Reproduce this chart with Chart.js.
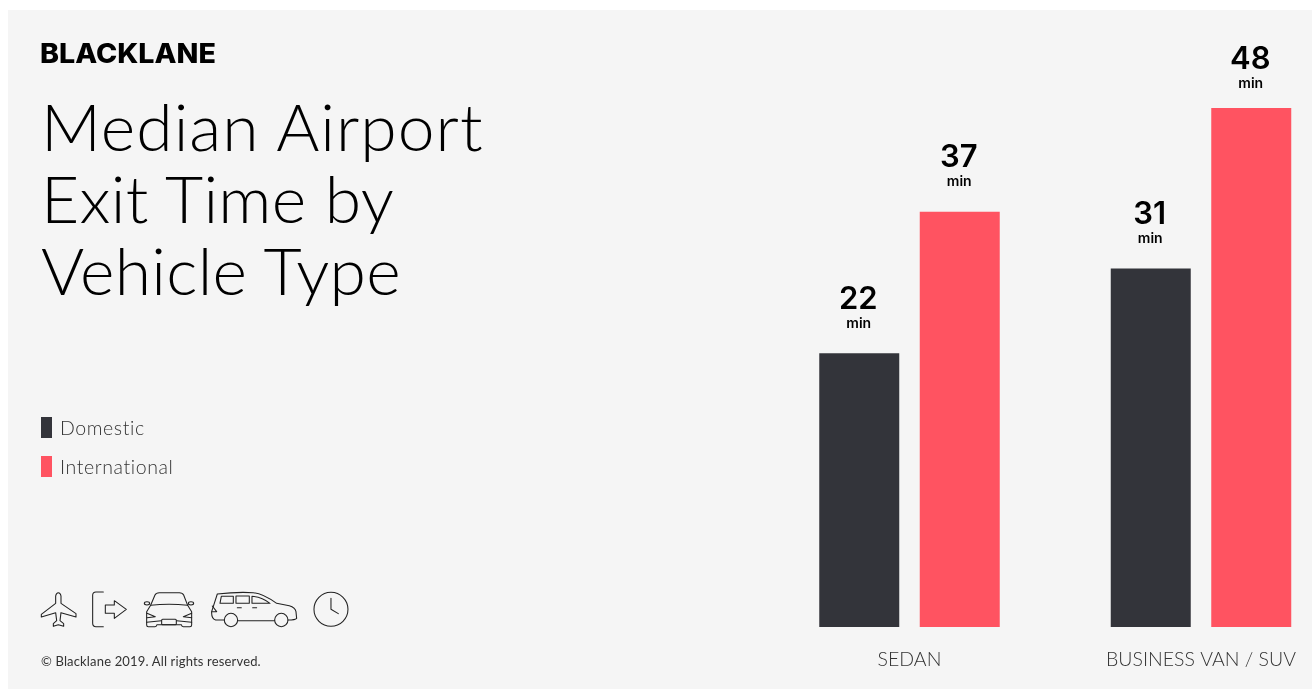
<!DOCTYPE html>
<html>
<head>
<meta charset="utf-8">
<title>Median Airport Exit Time by Vehicle Type</title>
<style>
    html, body { margin: 0; padding: 0; width: 1312px; height: 689px; overflow: hidden; background: #fff; font-family: "Lato", sans-serif; font-variant-ligatures: none; }
    #panel { position: absolute; left: 8px; top: 10px; width: 1304px; height: 679px; background: #f5f5f5; }
    #chartBox { position: absolute; left: 0; top: 0; width: 1312px; height: 689px; }
    .logo { position: absolute; left: 40px; top: 38px; font: 800 27px "Inter", sans-serif; color: #000; line-height: 32px; transform: scaleX(1.06); transform-origin: left center; }
    .title { position: absolute; left: 41px; top: 90px; font-weight: 300; font-size: 66px; line-height: 72px; color: #000; }
    .title span { display: block; white-space: nowrap; }
    .legendRow { position: absolute; left: 41px; height: 21px; line-height: 21px; font-weight: 300; font-size: 19.5px; letter-spacing: 0.6px; color: #333; }
    .legendRow i { display: inline-block; width: 11px; height: 21px; margin-right: 8px; vertical-align: top; }
    .copy { position: absolute; left: 41px; top: 654px; font-size: 13px; letter-spacing: 0.16px; line-height: 15px; color: #333; }
    #icons { position: absolute; left: 0; top: 0; }
</style>
</head>
<body>
<div id="panel"></div>
<div id="chartBox"><canvas id="exitTimeChart" width="1312" height="689"></canvas></div>
<div class="logo">BLACKLANE</div>
<div class="title">
    <span style="letter-spacing:1px">Median Airport</span>
    <span style="letter-spacing:0.3px">Exit Time by</span>
    <span style="letter-spacing:0.3px">Vehicle Type</span>
</div>
<div id="legend"></div>

<svg id="icons" width="1312" height="689" fill="none" stroke="#222" stroke-linejoin="round" stroke-linecap="round">
    <g transform="translate(20 570) scale(0.3333)" stroke-width="3.2">
        <!-- plane -->
        <path d="M107,100 V78 Q109,68 115,68 Q121,68 123,78 V100 L168,131 V141 L123,128 L120,152 L131,161 V169 L115,164 L100,169 V161 L110,152 L107,128 L64,141 V133 Z"/>
        <!-- exit door and arrow -->
        <path d="M250,66 H228 Q218,66 218,76 V160 Q218,170 228,170 H250"/>
        <path d="M256,105 H283 V92 L319,118 L283,145 V130 H256 Z"/>
        <!-- sedan -->
        <path d="M392,106 L405,75 Q408,68 418,68 H478 Q488,68 491,75 L503,106"/>
        <path d="M392,106 Q447,100 503,106 L515,125 V165 Q515,170 510,170 H490 Q485,170 484,164 H411 Q410,170 405,170 H385 Q380,170 380,165 V125 Z"/>
        <ellipse cx="381" cy="100" rx="8" ry="5"/>
        <ellipse cx="513" cy="100" rx="8" ry="5"/>
        <path d="M381,130 L406,140 L381,143 M515,130 L490,140 L515,143 M380,157 L424,152 M515,157 L470,152"/>
        <rect x="425" y="148" width="44" height="16" rx="3"/>
        <!-- suv -->
        <path d="M613,150 H587 Q574,146 575,125 L592,72 Q650,65 700,68 Q728,70 770,100 L808,107 Q826,112 828,125 L830,145 Q826,150 804,150 M764,152 H653"/>
        <circle cx="633" cy="150" r="20"/>
        <circle cx="784" cy="150" r="20"/>
        <path d="M604,79 H640 V100 H600 Z M648,78 H688 V100 H648 Z M696,79 Q725,80 750,100 H696 Z M577,108 L590,125 H576 M652,113 H664 M698,113 H710"/>
        <!-- clock -->
        <circle cx="933" cy="118" r="51"/>
        <path d="M933,85 V118 L955,131"/>
    </g>
</svg>
<div class="copy">© Blacklane 2019. All rights reserved.</div>

<script src="https://cdn.jsdelivr.net/npm/chart.js"></script>
<script>
    const categories = ['SEDAN', 'BUSINESS VAN / SUV'];
    const domestic = [22, 31];
    const international = [37, 48];
    const seriesNames = ['Domestic', 'International'];
    const seriesColors = ['#33343a', '#ff5361'];
    const unitLabel = 'min';

    // legend sits in the left column, away from the bars
    seriesNames.forEach(function(name, i) {
        const row = document.createElement('div');
        row.className = 'legendRow';
        row.style.top = (417 + i * 39) + 'px';
        row.innerHTML = '<i style="background:' + seriesColors[i] + '"></i>' + name;
        document.getElementById('legend').appendChild(row);
    });

    // value and unit above every bar, pushed down a bit for the tallest one
    const barLabels = {
        id: 'barLabels',
        afterDatasetsDraw(chart) {
            const ctx = chart.ctx;
            ctx.save();
            ctx.textAlign = 'center';
            ctx.textBaseline = 'middle';
            ctx.fillStyle = '#000';
            chart.data.datasets.forEach(function(ds, d) {
                chart.getDatasetMeta(d).data.forEach(function(bar, i) {
                    const top = Math.max(bar.y, 114);
                    ctx.font = '600 31px Inter, sans-serif';
                    ctx.fillText(ds.data[i], bar.x - 1, top - 54);
                    ctx.font = '600 14px Inter, sans-serif';
                    ctx.fillText(unitLabel, bar.x - 0.5, top - 30);
                });
            });
            ctx.restore();
        }
    };

    const yFloor = -7;

    new Chart(document.getElementById('exitTimeChart').getContext('2d'), {
        type: 'bar',
        data: {
            labels: categories,
            datasets: [
                { label: seriesNames[0], data: domestic, backgroundColor: seriesColors[0], base: yFloor, clip: false },
                { label: seriesNames[1], data: international, backgroundColor: seriesColors[1], base: yFloor, clip: false }
            ]
        },
        options: {
            responsive: false,
            animation: false,
            categoryPercentage: 0.6895,
            barPercentage: 0.796,
            layout: { padding: { left: 909.5, right: 111, top: 108, bottom: 22 } },
            plugins: { legend: { display: false }, title: { display: false }, tooltip: { enabled: false } },
            scales: {
                x: {
                    offset: false,
                    grid: { display: false },
                    border: { display: false },
                    afterFit(scale) { scale.paddingLeft = 0; scale.paddingRight = 0; scale.height = 40; },
                    ticks: {
                        autoSkip: false,
                        maxRotation: 0,
                        padding: 13,
                        color: '#333',
                        font: { family: 'Lato', size: 19.5, weight: '300' }
                    }
                },
                y: { display: false, min: yFloor, max: 48 }
            }
        },
        plugins: [barLabels]
    });
</script>
</body>
</html>
